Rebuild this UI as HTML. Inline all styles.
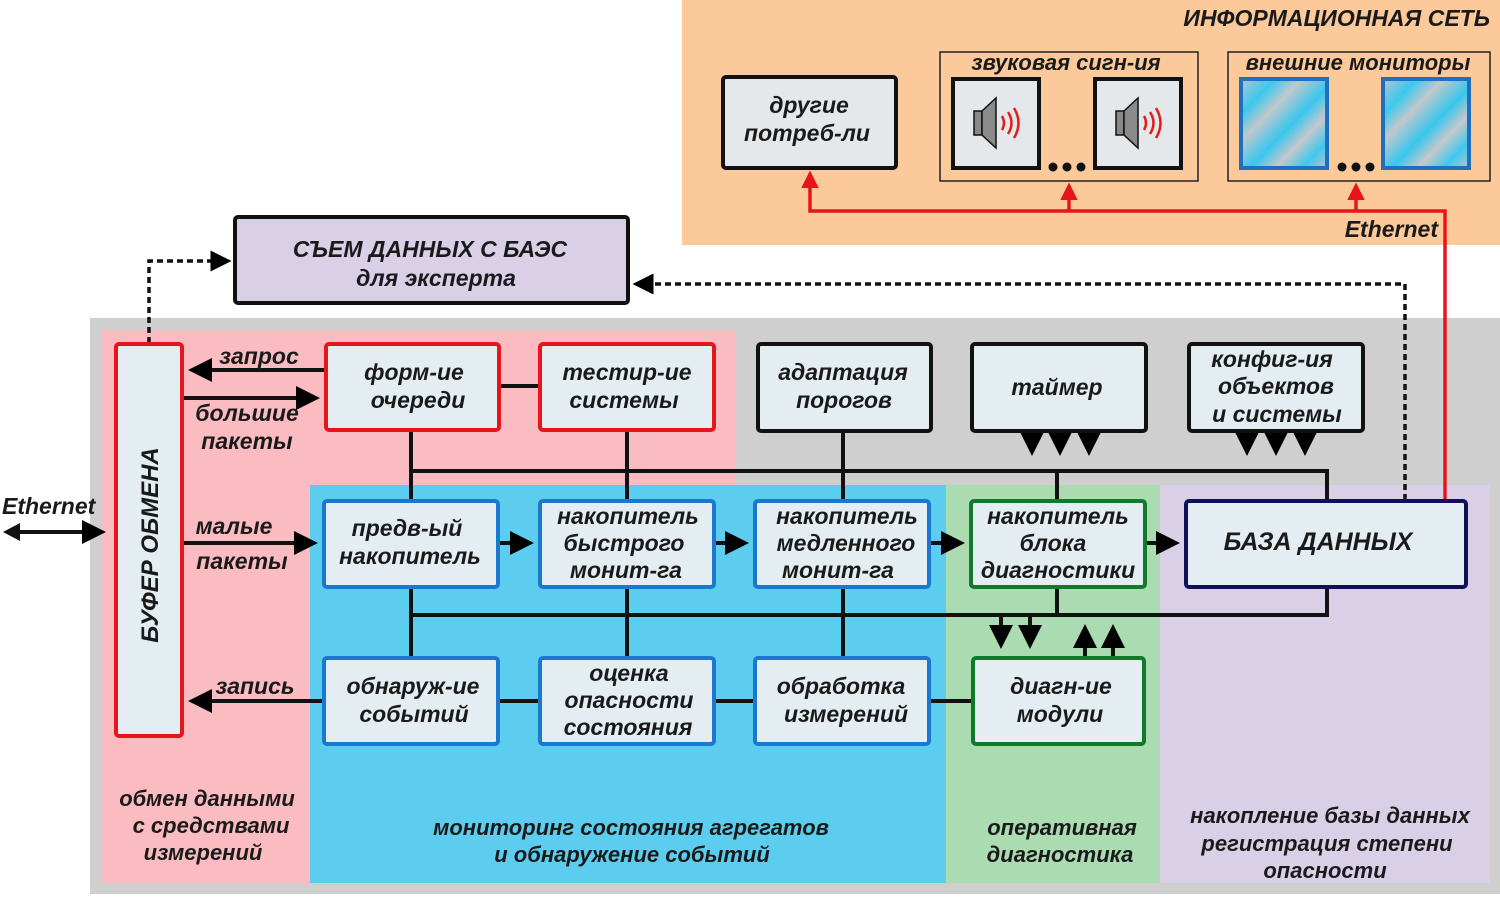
<!DOCTYPE html>
<html><head><meta charset="utf-8"><style>
html,body{margin:0;padding:0;background:#fff;}
svg{display:block;}
text{font-family:"Liberation Sans",sans-serif;font-style:italic;font-weight:bold;fill:#1a1a1a;}
</style></head><body>
<svg width="1500" height="898" viewBox="0 0 1500 898" xmlns="http://www.w3.org/2000/svg">
<defs>
<marker id="ab" markerWidth="6" markerHeight="6" refX="5" refY="3" orient="auto" markerUnits="strokeWidth"><path d="M0,0 L6,3 L0,6 z" fill="#000"/></marker>
<marker id="ar" markerWidth="5" markerHeight="5" refX="4" refY="2.5" orient="auto" markerUnits="strokeWidth"><path d="M0,0 L5,2.5 L0,5 z" fill="#e8141b"/></marker>
<linearGradient id="mon" x1="0" y1="0" x2="1" y2="1">
<stop offset="0" stop-color="#b8c4cc"/><stop offset="0.2" stop-color="#3cc8ee"/><stop offset="0.35" stop-color="#c0c8cc"/><stop offset="0.55" stop-color="#39c6ee"/><stop offset="0.7" stop-color="#c4c8cc"/><stop offset="0.85" stop-color="#40c8ee"/><stop offset="1" stop-color="#b8c4cc"/>
</linearGradient>
</defs>

<rect x="682" y="0" width="818" height="245" fill="#fcc99b"/>
<rect x="90" y="318" width="1410" height="576" fill="#cfcfcf"/>
<rect x="102" y="330" width="633" height="155" fill="#fbbcc1"/>
<rect x="102" y="485" width="208" height="398" fill="#fbbcc1"/>
<rect x="310" y="485" width="636" height="398" fill="#5ccdee"/>
<rect x="946" y="485" width="214" height="398" fill="#abdbb1"/>
<rect x="1160" y="485" width="330" height="398" fill="#d9cfe7"/>

<text x="1490" y="26" font-size="23" text-anchor="end">ИНФОРМАЦИОННАЯ СЕТЬ</text>
<rect x="723" y="77" width="173" height="91" rx="3" fill="#e4e8ea" stroke="#111" stroke-width="4"/>
<text x="809" y="113" font-size="23" text-anchor="middle">другие</text>
<text x="807" y="141" font-size="23" text-anchor="middle">потреб-ли</text>
<rect x="940" y="52" width="258" height="129" fill="none" stroke="#222" stroke-width="1.5"/>
<text x="1066" y="70" font-size="22" text-anchor="middle">звуковая сигн-ия</text>
<rect x="1228" y="52" width="262" height="129" fill="none" stroke="#222" stroke-width="1.5"/>
<text x="1358" y="70" font-size="22" text-anchor="middle">внешние мониторы</text>
<rect x="953" y="79" width="86" height="89" fill="#e4e8ea" stroke="#111" stroke-width="4"/>
<rect x="1095" y="79" width="86" height="89" fill="#e4e8ea" stroke="#111" stroke-width="4"/>
<g><rect x="974" y="111" width="8" height="24" fill="#888" stroke="#111" stroke-width="1.5"/><path d="M982,111 L996,98 L996,148 L982,135 z" fill="#8a8a8a" stroke="#111" stroke-width="1.5"/>
<path d="M1002,116 q4,7 0,14 M1008,112 q7,11 0,22 M1014,108 q9,15 0,30" fill="none" stroke="#e51b1b" stroke-width="2.5"/></g>
<g transform="translate(142,0)"><rect x="974" y="111" width="8" height="24" fill="#888" stroke="#111" stroke-width="1.5"/><path d="M982,111 L996,98 L996,148 L982,135 z" fill="#8a8a8a" stroke="#111" stroke-width="1.5"/>
<path d="M1002,116 q4,7 0,14 M1008,112 q7,11 0,22 M1014,108 q9,15 0,30" fill="none" stroke="#e51b1b" stroke-width="2.5"/></g>
<circle cx="1053" cy="167" r="4.5" fill="#111"/><circle cx="1067" cy="167" r="4.5" fill="#111"/><circle cx="1081" cy="167" r="4.5" fill="#111"/>
<rect x="1241" y="79" width="86" height="89" fill="url(#mon)" stroke="#1f6fc0" stroke-width="4"/>
<rect x="1383" y="79" width="86" height="89" fill="url(#mon)" stroke="#1f6fc0" stroke-width="4"/>
<circle cx="1342" cy="167" r="4.5" fill="#111"/><circle cx="1356" cy="167" r="4.5" fill="#111"/><circle cx="1370" cy="167" r="4.5" fill="#111"/>

<path d="M1445,500 L1445,211 L810,211 L810,174" fill="none" stroke="#e8141b" stroke-width="3.5" marker-end="url(#ar)"/>
<path d="M1069,211 L1069,186" fill="none" stroke="#e8141b" stroke-width="3.5" marker-end="url(#ar)"/>
<path d="M1356,211 L1356,186" fill="none" stroke="#e8141b" stroke-width="3.5" marker-end="url(#ar)"/>
<text x="1438" y="237" font-size="23" text-anchor="end">Ethernet</text>

<rect x="235" y="217" width="393" height="86" rx="3" fill="#d9cfe7" stroke="#111" stroke-width="4"/>
<text x="430" y="257" font-size="23" text-anchor="middle">СЪЕМ ДАННЫХ С БАЭС</text>
<text x="436" y="286" font-size="23" text-anchor="middle">для эксперта</text>
<path d="M149,343 L149,261 L228,261" fill="none" stroke="#111" stroke-width="3.5" stroke-dasharray="6,4" marker-end="url(#ab)"/>
<path d="M1405,500 L1405,284 L636,284" fill="none" stroke="#111" stroke-width="3.5" stroke-dasharray="6,4" marker-end="url(#ab)"/>

<g stroke="#111" stroke-width="4" fill="none">
<path d="M411,430 V500 M627,430 V500 M843,431 V500 M411,471 H1327 V500 M1057,471 V500"/>
<path d="M411,587 V657 M627,587 V657 M843,587 V657 M1057,587 V615 M411,615 H1327 V587"/>
<path d="M499,386 H540"/>
<path d="M498,701 H540 M714,701 H755 M929,701 H973"/>
</g>
<g stroke="#111" stroke-width="4" fill="none" marker-end="url(#ab)">
<path d="M326,370 H192"/>
<path d="M182,398 H316"/>
<path d="M182,543 H314"/>
<path d="M324,701 H192"/>
<path d="M498,543 H530"/><path d="M714,543 H745"/><path d="M929,543 H961"/><path d="M1145,543 H1176"/>
<path d="M1032,431 V452"/><path d="M1060,431 V452"/><path d="M1089,431 V452"/>
<path d="M1247,431 V452"/><path d="M1276,431 V452"/><path d="M1305,431 V452"/>
<path d="M1001,615 V645"/><path d="M1030,615 V645"/><path d="M1085,657 V628"/><path d="M1113,657 V628"/>
<path d="M14,532 H102"/>
</g>
<path d="M3,532 L20,523 L20,541 z" fill="#111"/>
<text x="2" y="514" font-size="23">Ethernet</text>

<text x="259" y="364" font-size="23" text-anchor="middle">запрос</text>
<text x="247" y="421" font-size="23" text-anchor="middle">большие</text>
<text x="247" y="449" font-size="23" text-anchor="middle">пакеты</text>
<text x="234" y="534" font-size="23" text-anchor="middle">малые</text>
<text x="242" y="569" font-size="23" text-anchor="middle">пакеты</text>
<text x="255" y="694" font-size="23" text-anchor="middle">запись</text>

<g stroke-width="4">
<rect x="116" y="344" width="66" height="392" rx="3" fill="#e4eef2" stroke="#e8141b"/>
<rect x="326" y="344" width="173" height="86" rx="3" fill="#e4eef2" stroke="#e8141b"/>
<rect x="540" y="344" width="174" height="86" rx="3" fill="#e4eef2" stroke="#e8141b"/>
<rect x="758" y="344" width="173" height="87" rx="3" fill="#e4eef2" stroke="#111"/>
<rect x="972" y="344" width="174" height="87" rx="3" fill="#e4eef2" stroke="#111"/>
<rect x="1189" y="344" width="174" height="87" rx="3" fill="#e4eef2" stroke="#111"/>
<rect x="324" y="501" width="174" height="86" rx="3" fill="#e4eef2" stroke="#1b78d0"/>
<rect x="540" y="501" width="174" height="86" rx="3" fill="#e4eef2" stroke="#1b78d0"/>
<rect x="755" y="501" width="174" height="86" rx="3" fill="#e4eef2" stroke="#1b78d0"/>
<rect x="971" y="501" width="174" height="86" rx="3" fill="#e4eef2" stroke="#117a2a"/>
<rect x="1186" y="501" width="280" height="86" rx="3" fill="#e4eef2" stroke="#10105a"/>
<rect x="324" y="658" width="174" height="86" rx="3" fill="#e4eef2" stroke="#1b78d0"/>
<rect x="540" y="658" width="174" height="86" rx="3" fill="#e4eef2" stroke="#1b78d0"/>
<rect x="755" y="658" width="174" height="86" rx="3" fill="#e4eef2" stroke="#1b78d0"/>
<rect x="973" y="658" width="171" height="86" rx="3" fill="#e4eef2" stroke="#117a2a"/>
</g>
<text transform="translate(158,545) rotate(-90)" font-size="24" text-anchor="middle">БУФЕР ОБМЕНА</text>
<text x="414" y="380" font-size="23" text-anchor="middle">форм-ие</text>
<text x="418" y="408" font-size="23" text-anchor="middle">очереди</text>
<text x="627" y="380" font-size="23" text-anchor="middle">тестир-ие</text>
<text x="624" y="408" font-size="23" text-anchor="middle">системы</text>
<text x="843" y="380" font-size="23" text-anchor="middle">адаптация</text>
<text x="844" y="408" font-size="23" text-anchor="middle">порогов</text>
<text x="1057" y="395" font-size="23" text-anchor="middle">таймер</text>
<text x="1272" y="367" font-size="23" text-anchor="middle">конфиг-ия</text>
<text x="1276" y="394" font-size="23" text-anchor="middle">объектов</text>
<text x="1277" y="422" font-size="23" text-anchor="middle">и системы</text>
<text x="407" y="536" font-size="23" text-anchor="middle">предв-ый</text>
<text x="410" y="564" font-size="23" text-anchor="middle">накопитель</text>
<text x="628" y="524" font-size="23" text-anchor="middle">накопитель</text>
<text x="624" y="551" font-size="23" text-anchor="middle">быстрого</text>
<text x="626" y="578" font-size="23" text-anchor="middle">монит-га</text>
<text x="847" y="524" font-size="23" text-anchor="middle">накопитель</text>
<text x="846" y="551" font-size="23" text-anchor="middle">медленного</text>
<text x="838" y="578" font-size="23" text-anchor="middle">монит-га</text>
<text x="1058" y="524" font-size="23" text-anchor="middle">накопитель</text>
<text x="1053" y="551" font-size="23" text-anchor="middle">блока</text>
<text x="1058" y="578" font-size="23" text-anchor="middle">диагностики</text>
<text x="1318" y="550" font-size="25" text-anchor="middle">БАЗА ДАННЫХ</text>
<text x="413" y="694" font-size="23" text-anchor="middle">обнаруж-ие</text>
<text x="414" y="722" font-size="23" text-anchor="middle">событий</text>
<text x="629" y="681" font-size="23" text-anchor="middle">оценка</text>
<text x="629" y="708" font-size="23" text-anchor="middle">опасности</text>
<text x="628" y="735" font-size="23" text-anchor="middle">состояния</text>
<text x="841" y="694" font-size="23" text-anchor="middle">обработка</text>
<text x="846" y="722" font-size="23" text-anchor="middle">измерений</text>
<text x="1061" y="694" font-size="23" text-anchor="middle">диагн-ие</text>
<text x="1060" y="722" font-size="23" text-anchor="middle">модули</text>

<text x="207" y="806" font-size="22" text-anchor="middle">обмен данными</text>
<text x="211" y="833" font-size="22" text-anchor="middle">с средствами</text>
<text x="203" y="860" font-size="22" text-anchor="middle">измерений</text>
<text x="631" y="835" font-size="22" text-anchor="middle">мониторинг состояния агрегатов</text>
<text x="632" y="862" font-size="22" text-anchor="middle">и обнаружение событий</text>
<text x="1062" y="835" font-size="22" text-anchor="middle">оперативная</text>
<text x="1060" y="862" font-size="22" text-anchor="middle">диагностика</text>
<text x="1330" y="823" font-size="22" text-anchor="middle">накопление базы данных</text>
<text x="1327" y="851" font-size="22" text-anchor="middle">регистрация степени</text>
<text x="1325" y="878" font-size="22" text-anchor="middle">опасности</text>
</svg>
</body></html>
